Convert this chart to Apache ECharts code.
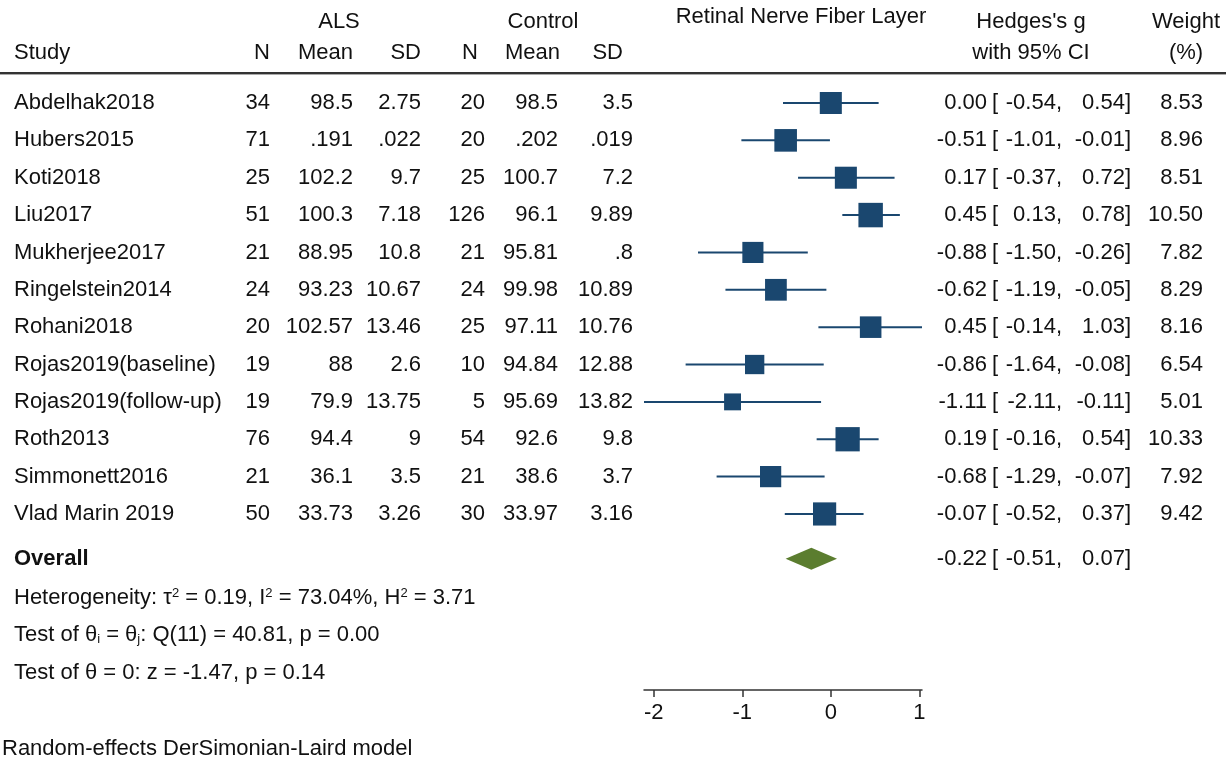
<!DOCTYPE html>
<html>
<head>
<meta charset="utf-8">
<script src="https://cdn.jsdelivr.net/npm/echarts@6/dist/echarts.min.js"></script>
<style>
html,body{margin:0;padding:0;background:#fff;}
#chart{width:1226px;height:763px;}
</style>
</head>
<body>
<div id="chart"></div>
<script>
// ---- data ----
var studies = ['Abdelhak2018','Hubers2015','Koti2018','Liu2017','Mukherjee2017','Ringelstein2014','Rohani2018','Rojas2019(baseline)','Rojas2019(follow-up)','Roth2013','Simmonett2016','Vlad Marin 2019'];
var alsN = ['34','71','25','51','21','24','20','19','19','76','21','50'];
var alsMean = ['98.5','.191','102.2','100.3','88.95','93.23','102.57','88','79.9','94.4','36.1','33.73'];
var alsSD = ['2.75','.022','9.7','7.18','10.8','10.67','13.46','2.6','13.75','9','3.5','3.26'];
var ctlN = ['20','20','25','126','21','24','25','10','5','54','21','30'];
var ctlMean = ['98.5','.202','100.7','96.1','95.81','99.98','97.11','94.84','95.69','92.6','38.6','33.97'];
var ctlSD = ['3.5','.019','7.2','9.89','.8','10.89','10.76','12.88','13.82','9.8','3.7','3.16'];
var hedgesG = [0.00,-0.51,0.17,0.45,-0.88,-0.62,0.45,-0.86,-1.11,0.19,-0.68,-0.07];
var ciLow = [-0.54,-1.01,-0.37,0.13,-1.50,-1.19,-0.14,-1.64,-2.11,-0.16,-1.29,-0.52];
var ciHigh = [0.54,-0.01,0.72,0.78,-0.26,-0.05,1.03,-0.08,-0.11,0.54,-0.07,0.37];
var weights = [8.53,8.96,8.51,10.50,7.82,8.29,8.16,6.54,5.01,10.33,7.92,9.42];
var overallG = -0.22, overallLow = -0.51, overallHigh = 0.07;
var xTicks = [-2,-1,0,1];
var statLines = ['Heterogeneity', 'Qtest', 'Ztest'];

// ---- layout ----
var FONT = "'Liberation Sans', Arial, sans-serif";
var FS = 22;
var ROW_PX = 37.36;
var GRID_TOP = 84, GRID_BOTTOM = 73, GRID_H = 763 - GRID_TOP - GRID_BOTTOM;
var yMin = -(103 - GRID_TOP) / ROW_PX;
var yMax = yMin + GRID_H / ROW_PX;
var OVERALL_ROW = studies.length + 0.2;
var xMin = Math.min.apply(null, ciLow), xMax = Math.max.apply(null, ciHigh);
var BLUE = '#1a476f', GREEN = '#5b7d2f';

var studyData = studies.map(function (s, i) {
  return [ciLow[i], ciHigh[i], hedgesG[i], i, weights[i]];
});

var chart = echarts.init(document.getElementById('chart'), null, {renderer: 'canvas'});
chart.setOption({
  animation: false,
  backgroundColor: '#fff',
  textStyle: {fontFamily: FONT},
  grid: {left: 644, width: 278, top: GRID_TOP, bottom: GRID_BOTTOM, containLabel: false},
  xAxis: {
    type: 'value', min: xMin, max: xMax, position: 'bottom',
    splitLine: {show: false},
    axisLine: {show: true, onZero: false, lineStyle: {color: '#333', width: 1.5}},
    axisTick: {show: true, length: 7, lineStyle: {color: '#333', width: 1.5}, customValues: xTicks},
    axisLabel: {color: '#111', fontSize: FS, fontFamily: FONT, margin: 12, customValues: xTicks,
      formatter: function (v) { return String(Math.round(v)); }}
  },
  yAxis: {
    type: 'value', inverse: true, min: yMin, max: yMax, show: false,
    splitLine: {show: false}
  },
  series: [{
    type: 'custom',
    data: studyData,
    encode: {x: [0, 1, 2], y: 3},
    renderItem: function (params, api) {
      var lo = api.coord([api.value(0), api.value(3)]);
      var hi = api.coord([api.value(1), api.value(3)]);
      var c = api.coord([api.value(2), api.value(3)]);
      var side = 7.55 * Math.sqrt(api.value(4));
      return {
        type: 'group',
        children: [
          {type: 'line', shape: {x1: lo[0], y1: lo[1], x2: hi[0], y2: hi[1]},
           style: {stroke: BLUE, lineWidth: 2}},
          {type: 'rect', shape: {x: c[0] - side / 2, y: c[1] - side / 2, width: side, height: side},
           style: {fill: BLUE}}
        ]
      };
    }
  }, {
    type: 'custom',
    data: [[overallLow, overallHigh, overallG, OVERALL_ROW]],
    encode: {x: [0, 1, 2], y: 3},
    renderItem: function (params, api) {
      var lo = api.coord([api.value(0), api.value(3)]);
      var hi = api.coord([api.value(1), api.value(3)]);
      var c = api.coord([api.value(2), api.value(3)]);
      var h = 11;
      return {
        type: 'polygon',
        shape: {points: [[lo[0], lo[1]], [c[0], c[1] - h], [hi[0], hi[1]], [c[0], c[1] + h]]},
        style: {fill: GREEN}
      };
    }
  }]
});

function rowY(r) { return chart.convertToPixel({gridIndex: 0}, [0, r])[1]; }
function txt(x, y, s, align, extra) {
  var st = {text: s, x: x, y: y, fill: '#111', font: FS + 'px ' + FONT, textAlign: align || 'left', textVerticalAlign: 'middle'};
  if (extra) for (var k in extra) st[k] = extra[k];
  return {type: 'text', silent: true, style: st};
}
function fmt(v) { return v.toFixed(2); }

var g = [];
// header
g.push(txt(339, 22, 'ALS', 'center'));
g.push(txt(543, 22, 'Control', 'center'));
g.push(txt(801, 17, 'Retinal Nerve Fiber Layer', 'center'));
g.push(txt(1031, 22, "Hedges's g", 'center'));
g.push(txt(1186, 22, 'Weight', 'center'));
g.push(txt(14, 53, 'Study', 'left'));
g.push(txt(270, 53, 'N', 'right'));
g.push(txt(353, 53, 'Mean', 'right'));
g.push(txt(421, 53, 'SD', 'right'));
g.push(txt(478, 53, 'N', 'right'));
g.push(txt(560, 53, 'Mean', 'right'));
g.push(txt(623, 53, 'SD', 'right'));
g.push(txt(1031, 53, 'with 95% CI', 'center'));
g.push(txt(1186, 53, '(%)', 'center'));
g.push({type: 'rect', silent: true, shape: {x: 0, y: 72, width: 1226, height: 2}, style: {fill: '#333'}});
g.push({type: 'rect', silent: true, shape: {x: 0, y: 74, width: 1226, height: 1}, style: {fill: '#aaa'}});

studies.forEach(function (s, i) {
  var y = rowY(i);
  g.push(txt(14, y, s, 'left'));
  g.push(txt(270, y, alsN[i], 'right'));
  g.push(txt(353, y, alsMean[i], 'right'));
  g.push(txt(421, y, alsSD[i], 'right'));
  g.push(txt(485, y, ctlN[i], 'right'));
  g.push(txt(558, y, ctlMean[i], 'right'));
  g.push(txt(633, y, ctlSD[i], 'right'));
  g.push(txt(987, y, fmt(hedgesG[i]), 'right'));
  g.push(txt(992, y, '[', 'left'));
  g.push(txt(1062, y, fmt(ciLow[i]) + ',', 'right'));
  g.push(txt(1131, y, fmt(ciHigh[i]) + ']', 'right'));
  g.push(txt(1203, y, weights[i].toFixed(2), 'right'));
});

var yo = rowY(OVERALL_ROW);
g.push(txt(14, yo, 'Overall', 'left', {font: 'bold ' + FS + 'px ' + FONT}));
g.push(txt(987, yo, fmt(overallG), 'right'));
g.push(txt(992, yo, '[', 'left'));
g.push(txt(1062, yo, fmt(overallLow) + ',', 'right'));
g.push(txt(1131, yo, fmt(overallHigh) + ']', 'right'));

var rich = {
  n: {fontSize: FS, fontFamily: FONT, fill: '#111'},
  sup: {fontSize: 13, fontFamily: FONT, fill: '#111', verticalAlign: 'top'},
  sub: {fontSize: 13, fontFamily: FONT, fill: '#111', verticalAlign: 'bottom'}
};
var statText = {
  Heterogeneity: '{n|Heterogeneity: τ}{sup|2}{n| = 0.19, I}{sup|2}{n| = 73.04%, H}{sup|2}{n| = 3.71}',
  Qtest: '{n|Test of θ}{sub|i}{n| = θ}{sub|j}{n|: Q(11) = 40.81, p = 0.00}',
  Ztest: '{n|Test of θ = 0: z = -1.47, p = 0.14}'
};
statLines.forEach(function (k, j) {
  var y = yo + 39 + j * 37.4;
  g.push(txt(14, y, statText[k], 'left', {rich: rich}));
});
g.push(txt(2, 749, 'Random-effects DerSimonian-Laird model', 'left'));

chart.setOption({graphic: g});
</script>
</body>
</html>
